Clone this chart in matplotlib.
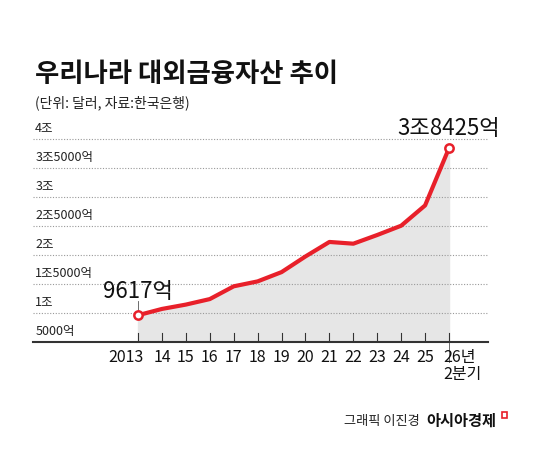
import matplotlib
matplotlib.use("Agg")
import matplotlib.pyplot as plt

plt.rcParams['font.family'] = ['Noto Sans CJK KR', 'DejaVu Sans']
NARROW = ['Liberation Sans Narrow', 'Noto Sans CJK KR', 'DejaVu Sans']

years = ["2013", "14", "15", "16", "17", "18", "19", "20", "21", "22", "23", "24", "25", "26년\n2분기"]
values = [9617, 10700, 11450, 12400, 14600, 15450, 17050, 19750, 22250, 21950, 23450, 25050, 28550, 38425]
ytick_vals = [5000, 10000, 15000, 20000, 25000, 30000, 35000, 40000]
ytick_labels = ["5000억", "1조", "1조5000억", "2조", "2조5000억", "3조", "3조5000억", "4조"]

W, H = 550, 453
fig = plt.figure(figsize=(W/100, H/100), dpi=100)
x0, x1, yb, yt = 33, 488, 342, 130
ax = fig.add_axes([x0/W, 1-yb/H, (x1-x0)/W, (yb-yt)/H])
ax.set_xlim(-4.39, 14.63)
ax.set_ylim(5000, 41552)
for s in ['top', 'right', 'left']:
    ax.spines[s].set_visible(False)
ax.spines['bottom'].set_linewidth(1.5)
ax.spines['bottom'].set_color('#333333')
ax.set_yticks([]); ax.set_xticks([])

xs = list(range(len(values)))
for v, lab in zip(ytick_vals, ytick_labels):
    if v > 5000:
        ax.axhline(v, color='#999999', lw=0.8, ls=(0, (1, 1.5)))
    ax.text(-4.3, v + 700, lab, fontsize=9, color='#222222', va='bottom', ha='left', family=NARROW)

ax.fill_between(xs, 5000, values, color='#e6e6e6', zorder=1)
ax.plot(xs, values, color='#e8202a', lw=3, zorder=3, solid_capstyle='round')
ax.plot([xs[0], xs[-1]], [values[0], values[-1]], 'o', ms=6, mfc='white', mec='#e8202a', mew=1.8, zorder=4)
for x in xs:
    ax.plot([x, x], [5000, 6500], color='#333333', lw=0.8, zorder=2)
ax.plot([0, 0], [values[0], 12000], color='#555555', lw=0.6, zorder=2)
ax.plot([13, 13], [5000, 1500], color='#555555', lw=0.6, zorder=2, clip_on=False)
ax.text(0.25, 3800, years[0], fontsize=11.5, ha='right', va='top', color='#111111', family=NARROW)
for x, lab in zip(xs[1:-1], years[1:-1]):
    ax.text(x, 3800, lab, fontsize=11.5, ha='center', va='top', color='#111111', family=NARROW)
ax.text(12.75, 3800, years[-1], fontsize=11.5, ha='left', va='top', color='#111111', family=NARROW, linespacing=1.0)
ax.text(0, 11800, "9617억", fontsize=16, ha='center', va='bottom', color='#111111', family=NARROW)
ax.text(13, 39800, "3조8425억", fontsize=16, ha='center', va='bottom', color='#111111', family=NARROW)

fig.text(35/W, 1-75/H, "우리나라 대외금융자산 추이", fontsize=19, fontweight='bold', va='center', color='#111111')
fig.text(35/W, 1-103/H, "(단위: 달러, 자료:한국은행)", fontsize=10, va='center', color='#222222')
fig.text(420/W, 1-421/H, "그래픽 이진경", fontsize=9.5, va='center', ha='right', color='#222222')
fig.text(426/W, 1-421/H, "아시아경제", fontsize=11, fontweight='bold', va='center', ha='left', color='#111111')
fig.patches.append(plt.Rectangle((502/W, 1-418/H), 5/W, 6/H, transform=fig.transFigure, fc='none', ec='#e8202a', lw=1.2))
fig.savefig("out.png", dpi=100)
